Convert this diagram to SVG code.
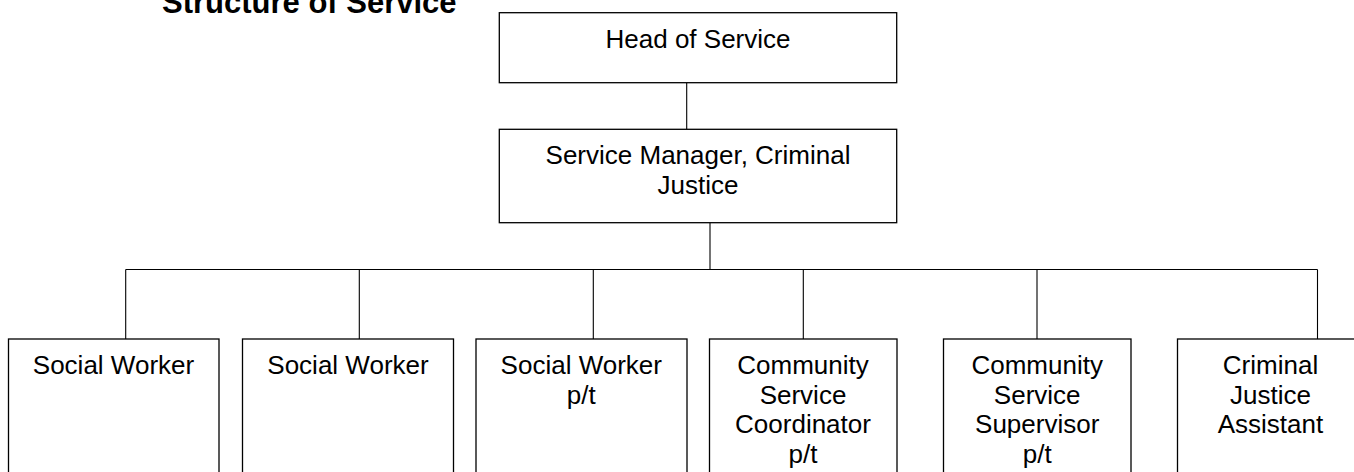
<svg xmlns="http://www.w3.org/2000/svg" width="1354" height="472" viewBox="0 0 1354 472">
<style>
.box{fill:#fff;stroke:#000;stroke-width:1.3}
.t{font-family:"Liberation Sans",Arial,sans-serif;font-size:26px;fill:#000;text-anchor:middle}
.title{font-family:"Liberation Sans",Arial,sans-serif;font-size:31px;font-weight:bold;fill:#000}
.c{stroke:#000;stroke-width:1.1;fill:none}
</style>
<rect width="1354" height="472" fill="#fff"/>
<text class="title" x="162" y="13">Structure of Service</text>
<g id="connectors">
<path class="c" d="M686.7 82.7V129.3"/>
<path class="c" d="M710 222.7V269.5"/>
<path class="c" d="M125.7 269.5H1317.5"/>
<path class="c" d="M125.7 269.5V339M359.3 269.5V339M593.3 269.5V339M803.3 269.5V339M1037 269.5V339M1317.5 269.5V339"/>
</g>
<g id="head">
<rect class="box" x="499.3" y="12.7" width="397.4" height="70"/>
<text class="t" x="698" y="47.7">Head of Service</text>
</g>
<g id="manager">
<rect class="box" x="499.3" y="129.3" width="397.4" height="93.4"/>
<text class="t" x="698" y="164.3">Service Manager, Criminal</text>
<text class="t" x="698" y="193.5">Justice</text>
</g>
<g id="sw1">
<rect class="box" x="8.5" y="339" width="210.5" height="160"/>
<text class="t" x="113.5" y="374">Social Worker</text>
</g>
<g id="sw2">
<rect class="box" x="242.5" y="339" width="211" height="160"/>
<text class="t" x="348" y="374">Social Worker</text>
</g>
<g id="sw3">
<rect class="box" x="476" y="339" width="211" height="160"/>
<text class="t" x="581.3" y="374">Social Worker</text>
<text class="t" x="581.3" y="403.7">p/t</text>
</g>
<g id="csc">
<rect class="box" x="709.5" y="339" width="187.5" height="160"/>
<text class="t" x="803" y="374">Community</text>
<text class="t" x="803" y="403.7">Service</text>
<text class="t" x="803" y="433.4">Coordinator</text>
<text class="t" x="803" y="463.1">p/t</text>
</g>
<g id="css">
<rect class="box" x="943.5" y="339" width="187.5" height="160"/>
<text class="t" x="1037.2" y="374">Community</text>
<text class="t" x="1037.2" y="403.7">Service</text>
<text class="t" x="1037.2" y="433.4">Supervisor</text>
<text class="t" x="1037.2" y="463.1">p/t</text>
</g>
<g id="cja">
<rect class="box" x="1177.5" y="339" width="186" height="160"/>
<text class="t" x="1270.5" y="374">Criminal</text>
<text class="t" x="1270.5" y="403.7">Justice</text>
<text class="t" x="1270.5" y="433.4">Assistant</text>
</g>
</svg>
